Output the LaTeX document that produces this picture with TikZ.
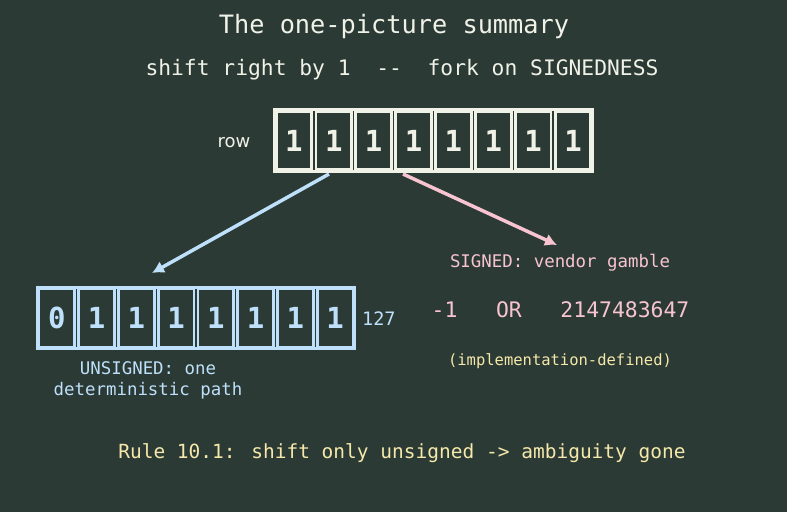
\documentclass[tikz,border=0pt]{standalone}
\usepackage{fontspec}
\setmainfont[Ligatures=NoCommon]{DejaVu Sans Mono}
\newfontfamily\propsans{DejaVu Sans}
\usetikzlibrary{arrows.meta,fit}
\definecolor{bg}{RGB}{43,58,52}
\definecolor{fgwhite}{RGB}{240,242,232}
\definecolor{ublue}{RGB}{190,224,250}
\definecolor{spink}{RGB}{248,196,210}
\definecolor{ryellow}{RGB}{245,232,170}
\tikzset{
  bitcell/.style={draw, line width=2.8pt, minimum width=35.6pt, minimum height=58.5pt, inner sep=0pt,
    font=\fontsize{29}{29}\selectfont\bfseries},
  frame/.style={draw, line width=3pt, inner sep=0pt},
  lbl/.style={inner sep=0pt, align=center},
  arr/.style={line width=3.5pt, -{Latex[length=12pt,width=13pt]}},
}
\begin{document}
\begin{tikzpicture}[x=1pt,y=-1pt]
\fill[bg] (0,0) rectangle (787,512);
\useasboundingbox (0,0) rectangle (787,512);

\node[lbl, text=fgwhite, font=\fontsize{25.3}{25.3}\selectfont] (title) at (394,27) {The one-picture summary};
\node[lbl, text=fgwhite, font=\fontsize{21.3}{21.3}\selectfont] (sub) at (402,70) {shift right by 1\ \ -{}-\ \ fork on SIGNEDNESS};

% top row
\foreach \i in {1,...,8}{
  \node[bitcell, draw=fgwhite, text=fgwhite] (t\i) at ({274+39.875*(\i-0.5)},140.5) {1};
}
\node[frame, draw=fgwhite, fit=(t1)(t8)] (top) {};
\node[lbl, text=fgwhite, font=\propsans\fontsize{18}{18}\selectfont] (rowlbl) at (234,143) {row};

% bottom-left row
\foreach \i/\b in {1/0,2/1,3/1,4/1,5/1,6/1,7/1,8/1}{
  \node[bitcell, draw=ublue, text=ublue] (u\i) at ({37+39.75*(\i-0.5)},318) {\b};
}
\node[frame, draw=ublue, fit=(u1)(u8)] (bot) {};
\node[lbl, text=ublue, font=\fontsize{18.5}{18.5}\selectfont, anchor=west] (val) at (362,319) {127};
\node[lbl, text=ublue, font=\fontsize{17.4}{21}\selectfont] (ulbl) at (148,380) {UNSIGNED: one\\deterministic path};

% right side
\node[lbl, text=spink, font=\fontsize{17.4}{17.4}\selectfont] (slbl) at (560,262.5) {SIGNED: vendor gamble};
\node[lbl, text=spink, font=\fontsize{21.4}{21.4}\selectfont] (sval) at (560.5,309.5) {-1\ \ \ OR\ \ \ 2147483647};
\node[lbl, text=ryellow, font=\fontsize{15.5}{15.5}\selectfont] (impl) at (560,361) {(implementation-defined)};

% rule
\node[lbl, text=ryellow, font=\fontsize{19.5}{19.5}\selectfont] (rule) at (402,453.5) {Rule 10.1: shift only unsigned -> ambiguity gone};

% arrows
\coordinate (ua) at (329,174);
\coordinate (ub) at (152,273);
\coordinate (sa) at (403,174);
\coordinate (sb) at (557,245);
\draw[arr, ublue] (ua) -- (ub);
\draw[arr, spink] (sa) -- (sb);
\end{tikzpicture}
\end{document}
